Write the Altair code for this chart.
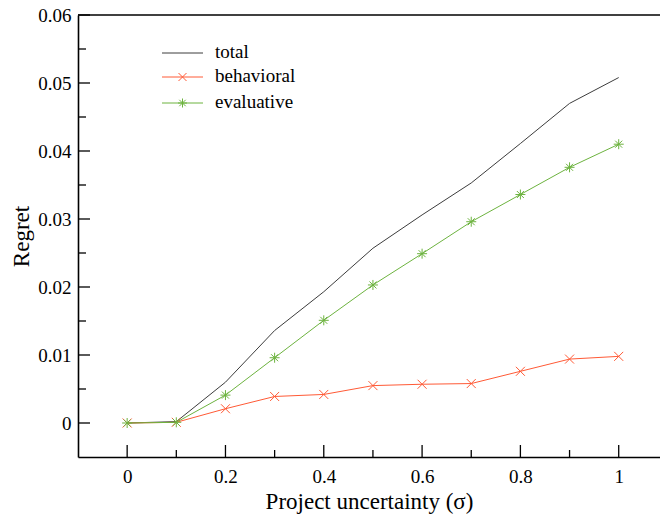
import altair as alt
import pandas as pd

# ---- data ----
sigma = [0.0, 0.1, 0.2, 0.3, 0.4, 0.5, 0.6, 0.7, 0.8, 0.9, 1.0]
total = [0.0, 0.0002, 0.0060, 0.0136, 0.0193, 0.0257, 0.0306, 0.0353, 0.0411, 0.0470, 0.0508]
behavioral = [0.0, 0.0001, 0.0021, 0.0039, 0.0042, 0.0055, 0.0057, 0.0058, 0.0076, 0.0094, 0.0098]
evaluative = [0.0, 0.0001, 0.0041, 0.0096, 0.0151, 0.0203, 0.0249, 0.0296, 0.0336, 0.0376, 0.0410]

series_names = ["total", "behavioral", "evaluative"]
series_colors = ["#3c3c3c", "#ff5a36", "#6db33f"]

x_major = [0.0, 0.2, 0.4, 0.6, 0.8, 1.0]
x_minor = [0.1, 0.3, 0.5, 0.7, 0.9]
y_major = [0.0, 0.01, 0.02, 0.03, 0.04, 0.05, 0.06]
y_minor = [0.005, 0.015, 0.025, 0.035, 0.045, 0.055]

# ---- styling ----
FONT = "'Liberation Serif', 'Times New Roman', serif"
W, H = 582, 442
X_SHAPE = "M-0.9,-0.9L0.9,0.9M-0.9,0.9L0.9,-0.9"
STAR_SHAPE = "M-1,0L1,0M0,-1L0,1M-0.7,-0.7L0.7,0.7M-0.7,0.7L0.7,-0.7"
LEG_X_SHAPE = "M-0.8,-0.8L0.8,0.8M-0.8,0.8L0.8,-0.8"
LEG_STAR_SHAPE = "M-0.9,0L0.9,0M0,-0.9L0,0.9M-0.64,-0.64L0.64,0.64M-0.64,0.64L0.64,-0.64"
series_shapes = [None, X_SHAPE, STAR_SHAPE]
legend_shapes = [None, LEG_X_SHAPE, LEG_STAR_SHAPE]
legend_rows_y = [38, 62, 88]

rows = []
for name, vals in zip(series_names, [total, behavioral, evaluative]):
    for s, v in zip(sigma, vals):
        rows.append({"sigma": s, "value": v, "series": name})
df = pd.DataFrame(rows)

xs = alt.Scale(domain=[-0.1, 1.084], nice=False, zero=False)
ys = alt.Scale(domain=[-0.005, 0.06], nice=False, zero=False)

x_axis = alt.Axis(
    values=x_major, format="~g", ticks=False, grid=False,
    domainColor="#000000", domainWidth=1.6,
    labelFont=FONT, labelFontSize=19, labelFontWeight="normal", labelColor="#000000", labelPadding=10,
    title="Project uncertainty (σ)", titleFont=FONT, titleFontSize=23,
    titleFontWeight="normal", titleColor="#000000",
    titleY=51, titleBaseline="alphabetic",
)
y_axis = alt.Axis(
    values=y_major, format="~g", ticks=False, grid=False,
    domainColor="#000000", domainWidth=1.6,
    labelFont=FONT, labelFontSize=19, labelFontWeight="normal", labelColor="#000000", labelPadding=7,
    title="Regret", titleFont=FONT, titleFontSize=23,
    titleFontWeight="normal", titleColor="#000000",
    titleX=-57, titleY=H / 2, titleBaseline="middle", titleAngle=270,
)

def X(field):
    return alt.X(field, scale=xs, axis=x_axis)

def Y(field):
    return alt.Y(field, scale=ys, axis=y_axis)

def series_line(i):
    return alt.Chart(df).transform_filter(alt.datum.series == series_names[i]).mark_line(
        strokeWidth=1, color=series_colors[i]
    ).encode(x=X("sigma:Q"), y=Y("value:Q"))

def series_points(i):
    return alt.Chart(df).transform_filter(alt.datum.series == series_names[i]).mark_point(
        shape=series_shapes[i], size=100, filled=False, strokeWidth=1, opacity=1,
        color=series_colors[i]
    ).encode(x=X("sigma:Q"), y=Y("value:Q"))

# hand-drawn legend (one row per series)
def legend_row(i):
    src = alt.Chart(pd.DataFrame({"label": [series_names[i]]}))
    yv = legend_rows_y[i]
    parts = [
        src.mark_rule(color=series_colors[i], strokeWidth=1).encode(
            x=alt.value(84), x2=alt.value(125), y=alt.value(yv)
        ),
        src.mark_text(
            font=FONT, fontSize=19, fontWeight="normal", color="#000000",
            align="left", baseline="middle", dy=-1
        ).encode(x=alt.value(137), y=alt.value(yv), text="label:N"),
    ]
    if legend_shapes[i] is not None:
        parts.append(
            src.mark_point(
                shape=legend_shapes[i], size=100, filled=False, strokeWidth=1, opacity=1,
                color=series_colors[i]
            ).encode(x=alt.value(104.5), y=alt.value(yv))
        )
    return parts

def yticks(vals, length):
    return alt.Chart(pd.DataFrame({"v": vals})).mark_rule(color="#000000", strokeWidth=1.3).encode(
        y=Y("v:Q"), x=alt.value(0), x2=alt.value(length)
    )

def xticks(vals, length):
    return alt.Chart(pd.DataFrame({"v": vals})).mark_rule(color="#000000", strokeWidth=1.3).encode(
        x=X("v:Q"), y=alt.value(H), y2=alt.value(H - length)
    )

top_border = alt.Chart(pd.DataFrame({"v": [0.06]})).mark_rule(color="#000000", strokeWidth=1.6).encode(
    y=Y("v:Q"), x=alt.value(0), x2=alt.value(W)
)

layers = [series_line(0), series_line(1), series_line(2), series_points(1), series_points(2)]
for i in range(3):
    layers += legend_row(i)
layers += [yticks(y_major, 12), yticks(y_minor, 8), xticks(x_major, 12), xticks(x_minor, 7), top_border]

chart = alt.layer(*layers).properties(
    width=W, height=H,
    autosize=alt.AutoSizeParams(type="none"),
    padding={"left": 78, "top": 15, "right": 0, "bottom": 64},
    background="white",
).configure(font=FONT).configure_axis(
    labelFont=FONT, titleFont=FONT
).configure_view(stroke=None)

chart.save("out.html", embed_options={"renderer": "svg", "actions": False})
